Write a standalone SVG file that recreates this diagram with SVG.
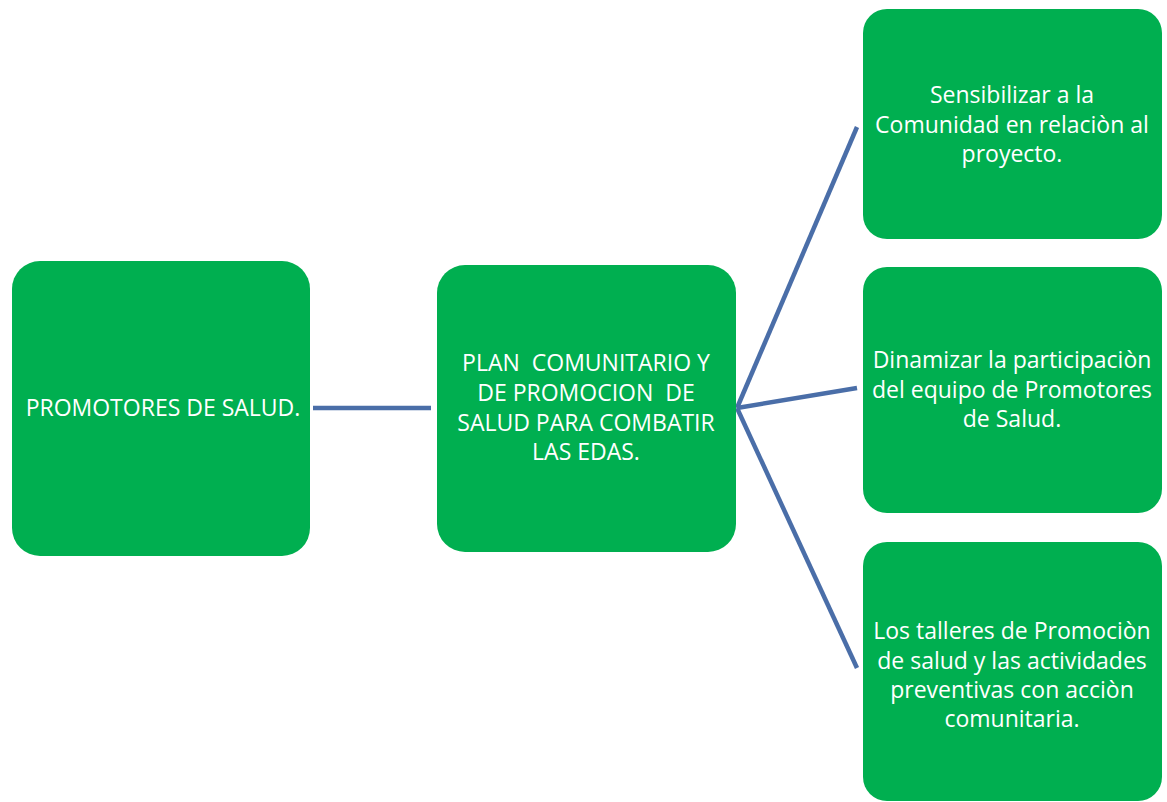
<svg xmlns="http://www.w3.org/2000/svg" width="1167" height="802" viewBox="0 0 1167 802">
<style>
.box{fill:#00AF50;}
.t{font-family:"Open Sans","Liberation Sans",sans-serif;font-size:23px;fill:#ffffff;text-anchor:middle;white-space:pre;}
.c{stroke:#4A6EA8;stroke-width:4.5;fill:none;stroke-linecap:butt;}
</style>
<rect width="1167" height="802" fill="#ffffff"/>
<g id="connectors">
<line class="c" x1="313" y1="408" x2="431" y2="408"/>
<line class="c" x1="737" y1="408" x2="857" y2="127"/>
<line class="c" x1="737" y1="408" x2="857" y2="388"/>
<line class="c" x1="737" y1="408" x2="857" y2="668"/>
</g>
<g id="promotores">
<rect class="box" x="12" y="261" width="298" height="295" rx="28"/>
<text class="t" x="163" y="416">PROMOTORES DE SALUD.</text>
</g>
<g id="plan">
<rect class="box" x="437" y="265" width="299" height="287" rx="28"/>
<text class="t" x="586" y="371">PLAN  COMUNITARIO Y</text>
<text class="t" x="586" y="401">DE PROMOCION  DE</text>
<text class="t" x="586" y="431">SALUD PARA COMBATIR</text>
<text class="t" x="586" y="460">LAS EDAS.</text>
</g>
<g id="sensibilizar">
<rect class="box" x="863" y="9" width="299" height="230" rx="24"/>
<text class="t" x="1012" y="103">Sensibilizar a la</text>
<text class="t" x="1012" y="133">Comunidad en relaciòn al</text>
<text class="t" x="1012" y="162">proyecto.</text>
</g>
<g id="dinamizar">
<rect class="box" x="863" y="267" width="299" height="246" rx="24"/>
<text class="t" x="1012" y="368">Dinamizar la participaciòn</text>
<text class="t" x="1012" y="398">del equipo de Promotores</text>
<text class="t" x="1012" y="427">de Salud.</text>
</g>
<g id="talleres">
<rect class="box" x="863" y="542" width="299" height="259" rx="24"/>
<text class="t" x="1012" y="639">Los talleres de Promociòn</text>
<text class="t" x="1012" y="669">de salud y las actividades</text>
<text class="t" x="1012" y="698">preventivas con acciòn</text>
<text class="t" x="1012" y="727">comunitaria.</text>
</g>
</svg>
